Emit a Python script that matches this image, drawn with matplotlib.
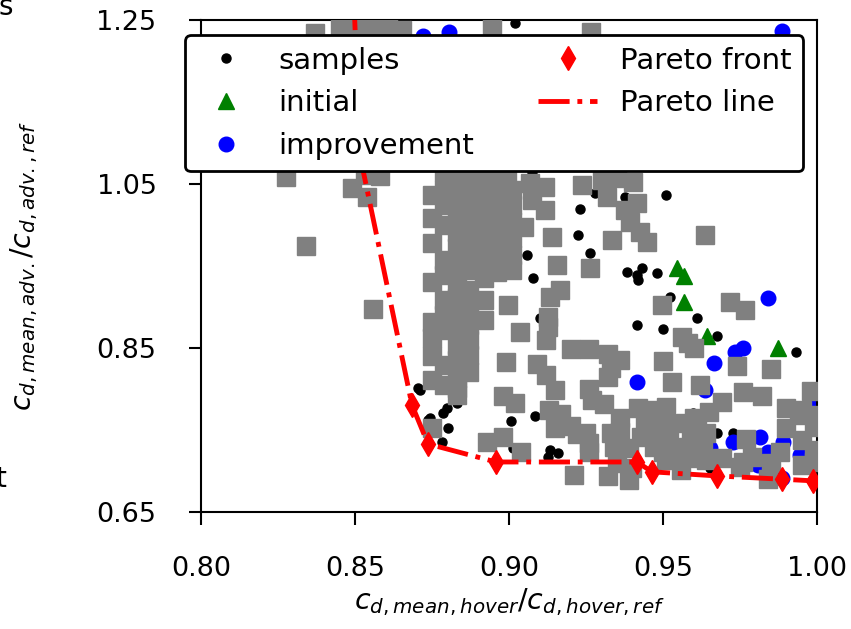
import matplotlib
matplotlib.use('Agg')
import matplotlib.pyplot as plt

# black dots: all evaluated samples
samples_x = [0.902, 0.8945, 0.9075, 0.880, 0.9377, 0.951, 0.928, 0.923, 0.9224, 0.9263,
             0.9058, 0.9078, 0.9383, 0.9432, 0.9416, 0.9419, 0.9481, 0.9523, 0.961, 0.9416,
             0.950, 0.9675, 0.9932, 0.8786, 0.9101, 0.8705, 0.8792, 0.8799, 0.8737, 0.8786,
             0.8782, 0.8831, 0.9006, 0.9084, 0.9013, 0.9133, 0.9159, 0.9127, 0.9727, 0.9675,
             0.9653, 0.9597, 0.8744, 0.8711, 0.8802]
samples_y = [1.246, 1.060, 1.065, 1.030, 1.034, 1.037, 1.039, 1.020, 0.988, 0.966,
             0.963, 0.935, 0.943, 0.948, 0.939, 0.933, 0.9415, 0.912, 0.887, 0.878,
             0.873, 0.865, 0.845, 0.943, 0.887, 0.801, 0.801, 0.777, 0.762, 0.771,
             0.735, 0.783, 0.761, 0.767, 0.728, 0.726, 0.722, 0.717, 0.746, 0.746,
             0.704, 0.771, 0.765, 0.799, 0.752]

initial_x = [0.9546, 0.9568, 0.9568, 0.9643, 0.9874]
initial_y = [0.948, 0.938, 0.906, 0.865, 0.850]

improvement_x = [0.8721, 0.8805, 0.9887, 0.9841, 0.9760, 0.9734, 0.9666, 0.9416, 0.9636, 0.9815,
                 0.9727, 0.9841, 0.9825, 0.9809, 0.9890, 0.9945, 0.9994, 0.9887, 0.9653]
improvement_y = [1.2305, 1.2354, 1.2366, 0.911, 0.850, 0.845, 0.832, 0.8085, 0.799, 0.7415,
                 0.7354, 0.7232, 0.7159, 0.7073, 0.7354, 0.7195, 0.7805, 0.6915, 0.7281]

pareto_x = [0.8494, 0.8516, 0.8685, 0.8737, 0.8958, 0.9416, 0.9464, 0.9675, 0.9887, 0.9987]
pareto_y = [1.300, 1.085, 0.7805, 0.733, 0.711, 0.711, 0.699, 0.694, 0.690, 0.688]

# grey squares (earlier runs, not in legend)
other_upper_x = [0.837, 0.845, 0.8506, 0.8555, 0.8607, 0.8652, 0.8945, 0.9266,
                 0.8276, 0.8341, 0.8558, 0.849, 0.8539, 0.8581, 0.8532,
                 0.875, 0.875, 0.875, 0.875, 0.875, 0.875, 0.875, 0.875, 0.875,
                 0.879, 0.879, 0.879, 0.879, 0.879, 0.879, 0.879, 0.879, 0.879, 0.879, 0.879,
                 0.883, 0.883, 0.883, 0.883, 0.883, 0.883, 0.883, 0.883, 0.883, 0.883, 0.883,
                 0.883, 0.883, 0.883, 0.883, 0.883,
                 0.887, 0.887, 0.887, 0.887, 0.887, 0.887, 0.887, 0.887, 0.887, 0.887, 0.887,
                 0.887, 0.887,
                 0.892, 0.892, 0.892, 0.892, 0.892, 0.892, 0.892, 0.892, 0.892,
                 0.896, 0.896, 0.896, 0.896, 0.896, 0.896, 0.896,
                 0.901, 0.901, 0.901, 0.901, 0.901, 0.901,
                 0.8994, 0.9068, 0.9117, 0.9075, 0.9117, 0.9049,
                 0.9140, 0.9156, 0.9263, 0.9334, 0.9166, 0.9133, 0.8997, 0.9127, 0.9127, 0.9036,
                 0.8997, 0.9237, 0.9302, 0.9318, 0.9350, 0.9402, 0.9415, 0.9376, 0.9392, 0.9425,
                 0.9448, 0.9637, 0.9497, 0.9718, 0.9767, 0.9562, 0.9582]
other_upper_y = [1.234, 1.244, 1.240, 1.244, 1.240, 1.238, 1.241, 1.235,
                 1.059, 0.974, 0.898, 1.045, 1.034, 1.060, 1.061,
                 1.037, 1.009, 0.978, 0.930, 0.882, 0.862, 0.840, 0.811, 0.752,
                 1.065, 1.043, 1.024, 1.000, 0.957, 0.939, 0.909, 0.890, 0.872, 0.829, 0.805,
                 1.065, 1.049, 1.030, 1.012, 0.991, 0.972, 0.951, 0.929, 0.911, 0.894, 0.874,
                 0.854, 0.835, 0.813, 0.793, 0.801,
                 1.065, 1.045, 1.024, 1.006, 0.984, 0.963, 0.945, 0.921, 0.899, 0.878, 0.860,
                 0.842, 0.821,
                 1.055, 1.037, 1.016, 0.996, 0.976, 0.955, 0.935, 0.909, 0.884,
                 1.061, 1.040, 1.021, 1.000, 0.979, 0.960, 0.943,
                 1.043, 1.024, 1.004, 0.984, 0.963, 0.945,
                 1.059, 1.051, 1.046, 1.030, 1.018, 0.998,
                 0.985, 0.951, 0.947, 0.982, 0.921, 0.912, 0.902, 0.888, 0.876, 0.870,
                 0.957, 1.049, 1.055, 1.034, 1.057, 1.052, 1.027, 1.018, 1.004, 0.991,
                 0.979, 0.988, 0.902, 0.906, 0.896, 0.863, 0.856]

other_lower_x = [0.893, 0.898, 0.904, 0.899, 0.898, 0.902, 0.912, 0.909, 0.912, 0.915,
                 0.913, 0.917, 0.920, 0.915, 0.922, 0.925, 0.926, 0.926, 0.920, 0.926,
                 0.932, 0.933, 0.932, 0.931, 0.936, 0.926, 0.927, 0.933, 0.934, 0.935,
                 0.921, 0.932, 0.939, 0.940, 0.942, 0.947, 0.951, 0.950, 0.953, 0.962,
                 0.960, 0.947, 0.951, 0.957, 0.961, 0.964, 0.943, 0.947, 0.952, 0.958,
                 0.963, 0.951, 0.958, 0.964, 0.956, 0.936, 0.936, 0.944, 0.948, 0.960,
                 0.965, 0.969, 0.935, 0.939, 0.952, 0.959, 0.950, 0.955, 0.961, 0.969,
                 0.976, 0.977, 0.974, 0.975, 0.979, 0.985, 0.984, 0.982, 0.985, 0.990,
                 0.995, 0.990, 0.995, 0.998, 0.999, 0.999, 0.988, 0.976, 0.994, 0.999,
                 0.995, 0.999]
other_lower_y = [0.735, 0.741, 0.723, 0.833, 0.791, 0.783, 0.860, 0.830, 0.817, 0.799,
                 0.774, 0.770, 0.755, 0.752, 0.745, 0.746, 0.734, 0.723, 0.849, 0.849,
                 0.843, 0.826, 0.815, 0.782, 0.835, 0.800, 0.787, 0.746, 0.729, 0.710,
                 0.695, 0.694, 0.689, 0.704, 0.777, 0.774, 0.778, 0.834, 0.809, 0.805,
                 0.850, 0.754, 0.759, 0.759, 0.754, 0.746, 0.741, 0.729, 0.729, 0.729,
                 0.729, 0.713, 0.717, 0.713, 0.701, 0.765, 0.748, 0.760, 0.748, 0.765,
                 0.772, 0.784, 0.732, 0.728, 0.744, 0.748, 0.723, 0.716, 0.716, 0.716,
                 0.711, 0.739, 0.828, 0.705, 0.717, 0.710, 0.690, 0.791, 0.824, 0.777,
                 0.774, 0.752, 0.738, 0.798, 0.754, 0.726, 0.723, 0.796, 0.768, 0.768,
                 0.707, 0.711]

x_ticks = [0.80, 0.85, 0.90, 0.95, 1.00]
y_ticks = [0.65, 0.85, 1.05, 1.25]

fig = plt.figure(figsize=(8.51, 6.29), dpi=100)
ax = fig.add_axes([201/851, 1 - 512/629, 616/851, 492/629])

ax.plot(samples_x, samples_y, 'o', color='black', ms=6.5, ls='none', label='samples', zorder=2)
ax.plot(initial_x, initial_y, '^', color='green', ms=11, ls='none', label='initial', zorder=2)
ax.plot(improvement_x, improvement_y, 'o', color='blue', ms=10.5, ls='none', label='improvement', zorder=2)
ax.plot(other_upper_x + other_lower_x, other_upper_y + other_lower_y, 's', color='gray',
        ms=12.5, ls='none', zorder=3)
ax.plot(pareto_x, pareto_y, 'd', color='red', ms=12.5, ls='none', label='Pareto front', zorder=4)
ax.plot(pareto_x, pareto_y, '-.', color='red', lw=3.5, label='Pareto line', zorder=4)

ax.set_xlim(0.80, 1.00)
ax.set_ylim(0.65, 1.25)
ax.set_xticks(x_ticks)
ax.set_yticks(y_ticks)
ax.set_xticklabels(['%.2f' % v for v in x_ticks])
ax.set_yticklabels(['%.2f' % v for v in y_ticks])
ax.tick_params(direction='out', length=9, width=1.5, pad=23, labelsize=19.5)
for s in ax.spines.values():
    s.set_linewidth(1.5)

ax.set_xlabel(r'$c_{d,mean,hover}/c_{d,hover,ref}$', fontsize=20.5)
ax.set_ylabel(r'$c_{d,mean,adv.}/c_{d,adv.,ref}$', fontsize=20.5)
ax.xaxis.set_label_coords(0.5, -0.152)
ax.yaxis.set_label_coords(-0.262, 0.5)

leg = ax.legend(ncol=2, loc='upper left', bbox_to_anchor=(185/851, 1 - 35/629),
                bbox_transform=fig.transFigure, borderaxespad=0, fontsize=21,
                columnspacing=2.2, framealpha=1, edgecolor='black')
leg.get_frame().set_linewidth(2)
leg.set_zorder(10)

# cut-off text from the neighbouring panel
fig.text(13/851, 1 - 15/629, 's', ha='right', va='baseline', fontsize=20)
fig.text(6/851, 1 - 487/629, 't', ha='right', va='baseline', fontsize=20)

fig.savefig('out.png', dpi=100)
